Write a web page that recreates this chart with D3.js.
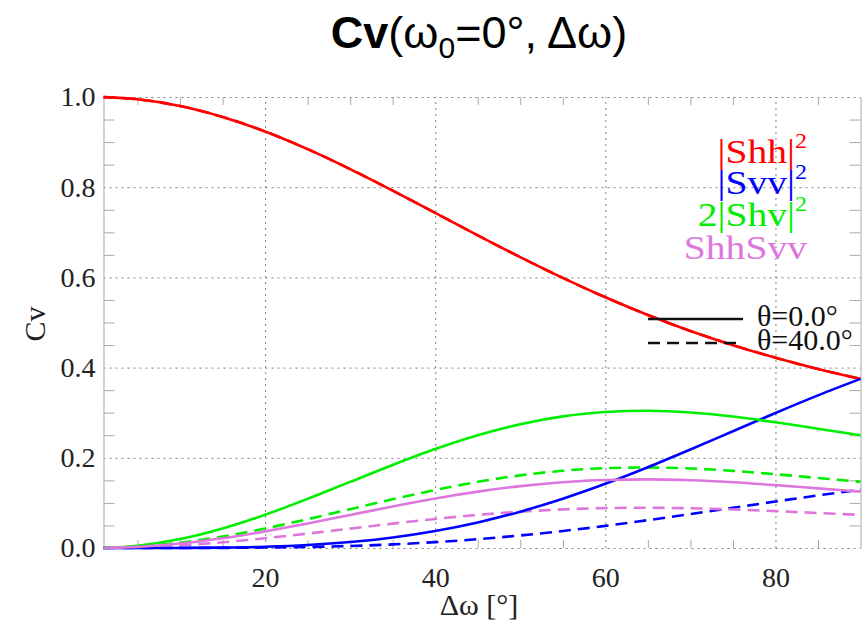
<!DOCTYPE html>
<html><head><meta charset="utf-8">
<script src="https://cdn.jsdelivr.net/npm/d3@7"></script>
<style>body{margin:0;background:#fff;} svg{display:block;background:#fff}</style>
</head><body>
<svg id="chart" width="863" height="633"></svg>
<script>
// ---- data ----
const dw = [1,5,10,15,20,25,30,35,40,45,50,55,60,65,70,75,80,85,90];
// theta = 0.0 deg (solid)
const shh0 = [0.9998,0.9949,0.9800,0.9558,0.9235,0.8844,0.8402,0.7925,0.7430,0.6933,0.6449,0.5988,0.5559,0.5167,0.4813,0.4498,0.4219,0.3971,0.3750];
const svv0 = [0.0000,0.0000,0.0002,0.0009,0.0028,0.0066,0.0132,0.0233,0.0377,0.0567,0.0806,0.1093,0.1424,0.1791,0.2183,0.2588,0.2994,0.3385,0.3750];
const shv0 = [0.0002,0.0050,0.0198,0.0433,0.0737,0.1089,0.1466,0.1842,0.2194,0.2500,0.2745,0.2919,0.3017,0.3043,0.3004,0.2914,0.2788,0.2644,0.2500];
const hv0  = [0.0001,0.0025,0.0099,0.0216,0.0368,0.0545,0.0733,0.0921,0.1097,0.1250,0.1372,0.1459,0.1508,0.1521,0.1502,0.1457,0.1394,0.1322,0.1250];
// theta = 40.0 deg (dashed)
const shh40 = [0.9998,0.9949,0.9800,0.9558,0.9235,0.8844,0.8402,0.7925,0.7430,0.6933,0.6449,0.5988,0.5559,0.5167,0.4813,0.4498,0.4219,0.3971,0.3750];
const svv40 = [0.0000,0.0000,0.0001,0.0003,0.0010,0.0023,0.0045,0.0080,0.0130,0.0195,0.0278,0.0377,0.0490,0.0617,0.0752,0.0891,0.1031,0.1166,0.1291];
const shv40 = [0.0001,0.0030,0.0116,0.0254,0.0432,0.0639,0.0860,0.1081,0.1287,0.1467,0.1611,0.1713,0.1770,0.1785,0.1763,0.1710,0.1636,0.1552,0.1467];
const hv40  = [0.0001,0.0015,0.0058,0.0127,0.0216,0.0320,0.0430,0.0541,0.0644,0.0734,0.0805,0.0856,0.0885,0.0893,0.0881,0.0855,0.0818,0.0776,0.0734];

const xMajor = [20,40,60,80];
const xMinor = [5,10,15,25,30,35,45,50,55,65,70,75,85];
const yMajor = [0,0.2,0.4,0.6,0.8,1.0];
const yMinor = [0.05,0.1,0.15,0.25,0.3,0.35,0.45,0.5,0.55,0.65,0.7,0.75,0.85,0.9,0.95];

const seriesNames = ["|Shh|","|Svv|","2|Shv|","ShhSvv"];
const seriesColors = ["#ff0000","#0000ff","#00ee00","#dd77dd"];
const thetaLabels = ["θ=0.0°","θ=40.0°"];

// ---- drawing ----
const svg = d3.select("#chart");
const x = d3.scaleLinear().domain([1,90]).range([103.5,860.5]);
const y = d3.scaleLinear().domain([0,1]).range([548,97]);
const serif = "'Liberation Serif','Times New Roman',serif";
const sans = "'Liberation Sans',Arial,sans-serif";
const axisGray = "#a8a8a8", gridGray = "#808080";

// vertical grid (dotted)
const gx = svg.append("g").attr("transform","translate(0,548)")
  .call(d3.axisBottom(x).tickValues(xMajor).tickSize(-(548-97)).tickFormat(""));
gx.select(".domain").remove();
gx.selectAll("line").attr("stroke",gridGray).attr("stroke-dasharray","2,4").attr("stroke-width",1);

// horizontal grid (dotted), incl. bottom and top frame
const gy = svg.append("g").attr("transform","translate(103.5,0)")
  .call(d3.axisLeft(y).tickValues(yMajor).tickSize(-(860.5-103.5)).tickFormat(""));
gy.select(".domain").remove();
gy.selectAll("line").attr("stroke",gridGray).attr("stroke-dasharray","2,4").attr("stroke-width",1);

// minor ticks bottom (inward)
const mb = svg.append("g").attr("transform","translate(0,548)")
  .call(d3.axisBottom(x).tickValues(xMinor).tickSize(-8).tickFormat(""));
mb.select(".domain").remove();
mb.selectAll("line").attr("stroke",axisGray);
// minor ticks top (inward)
const mt = svg.append("g").attr("transform","translate(0,97)")
  .call(d3.axisTop(x).tickValues(xMinor).tickSize(-8).tickFormat(""));
mt.select(".domain").remove();
mt.selectAll("line").attr("stroke",axisGray);
// left axis with minor ticks
const ml = svg.append("g").attr("transform","translate(103.5,0)")
  .call(d3.axisLeft(y).tickValues(yMinor).tickSize(-11).tickSizeOuter(0).tickFormat(""));
ml.select(".domain").attr("stroke",axisGray);
ml.selectAll("line").attr("stroke",axisGray);
// right axis with minor ticks
const mr = svg.append("g").attr("transform","translate(860.5,0)")
  .call(d3.axisRight(y).tickValues(yMinor).tickSize(-11).tickSizeOuter(0).tickFormat(""));
mr.select(".domain").attr("stroke",axisGray);
mr.selectAll("line").attr("stroke",axisGray);

// tick labels
const ly = svg.append("g").attr("transform","translate(103.5,0)")
  .call(d3.axisLeft(y).tickValues(yMajor).tickSize(0).tickPadding(8).tickFormat(d3.format(".1f")));
ly.select(".domain").remove();
ly.selectAll("text").attr("font-family",serif).attr("font-size",28).attr("fill","#222");
const lx = svg.append("g").attr("transform","translate(0,548)")
  .call(d3.axisBottom(x).tickValues(xMajor).tickSize(0).tickPadding(19).tickFormat(d3.format("d")));
lx.select(".domain").remove();
lx.selectAll("text").attr("font-family",serif).attr("font-size",28).attr("fill","#222");

// curves
const line = d3.line().x(d=>x(d[0])).y(d=>y(d[1])).curve(d3.curveMonotoneX);
const dashed = [shh40, svv40, shv40, hv40];
const solid = [shh0, svv0, shv0, hv0];
const plot = svg.append("g");
dashed.forEach((vals,i)=>{
  plot.append("path").datum(dw.map((d,j)=>[d,vals[j]]))
    .attr("d",line).attr("fill","none").attr("stroke",seriesColors[i])
    .attr("stroke-width",2.6).attr("stroke-dasharray","12,7");
});
solid.forEach((vals,i)=>{
  plot.append("path").datum(dw.map((d,j)=>[d,vals[j]]))
    .attr("d",line).attr("fill","none").attr("stroke",seriesColors[i])
    .attr("stroke-width",2.6);
});

// series legend (glyphs stretched horizontally like the reference font)
const legY = [163,194,226,259];
const sup = [true,true,true,false];
seriesNames.forEach((name,i)=>{
  const t = svg.append("text").attr("transform",`translate(807,${legY[i]}) scale(1.2,1)`)
    .attr("text-anchor","end").attr("font-family",serif).attr("font-size",33)
    .attr("fill",seriesColors[i]);
  t.append("tspan").text(name);
  if (sup[i]) t.append("tspan").attr("font-size",20).attr("dy",-15).text("2");
});

// theta legend
const thY = [319,343];
thetaLabels.forEach((lab,i)=>{
  svg.append("line").attr("x1",648).attr("x2",i===0?743:738).attr("y1",thY[i]).attr("y2",thY[i])
    .attr("stroke","#111").attr("stroke-width",2.6)
    .attr("stroke-dasharray", i===0? null : "12,7");
  svg.append("text").attr("x",757).attr("y",thY[i]+7).attr("font-family",serif)
    .attr("font-size",30).attr("fill","#111").text(lab);
});

// axis titles
svg.append("text").attr("x",479).attr("y",615).attr("text-anchor","middle")
  .attr("font-family",serif).attr("font-size",30).attr("fill","#222").text("Δω [°]");
svg.append("text").attr("transform","translate(45,324) rotate(-90)").attr("text-anchor","middle")
  .attr("font-family",serif).attr("font-size",30).attr("fill","#222").text("Cv");

// title
const title = svg.append("text").attr("x",479).attr("y",48).attr("text-anchor","middle")
  .attr("font-family",sans).attr("font-size",45).attr("fill","#000");
title.append("tspan").attr("font-weight","bold").text("Cv");
title.append("tspan").text("(ω");
title.append("tspan").attr("font-size",30).attr("dy",10).text("0");
title.append("tspan").attr("dy",-10).text("=0°, Δω)");
</script>
</body></html>
